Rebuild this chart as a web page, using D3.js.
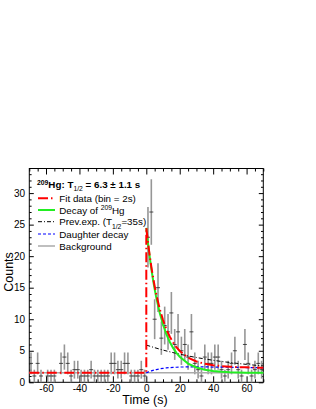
<!DOCTYPE html>
<html>
<head>
<meta charset="utf-8">
<script src="https://cdn.jsdelivr.net/npm/d3@7"></script>
<style>
  body { margin: 0; background: #fff; }
  svg text { font-family: "Liberation Sans", Arial, Helvetica, sans-serif; }
</style>
</head>
<body>
<figure id="decay" style="margin:0"></figure>
<script>
// histogram: bin centres (2 s bins) and counts
const binCenters = d3.range(-69, 70, 2);
const counts = [
  3, 1, 3, 1, 0, 1, 1, 1, 0, 3, 4, 3, 1, 2, 2, 1, 1, 1,
  2, 1, 1, 1, 1, 1, 3, 3, 2, 2, 3, 3, 1, 1, 1, 2, 1,
  23, 27, 10, 15, 7, 9, 8, 11, 6, 8, 5, 6, 4, 8, 3, 2, 1, 4,
  3, 3, 4, 4, 2, 1, 2, 3, 5, 2, 1, 6, 3, 1, 2, 3, 2
];

// fitted curves (t >= 0)
const fitTime = [0, 1, 2, 3, 4, 5, 6, 8, 10, 12, 14, 16, 18, 20, 25, 30, 35, 40, 45, 50, 55, 60, 65, 70];
const fitTotal = [24.5, 22.21, 20.18, 18.35, 16.69, 15.24, 13.91, 11.67, 9.87, 8.42, 7.26, 6.33, 5.56, 4.97,
  3.91, 3.30, 2.93, 2.70, 2.57, 2.48, 2.41, 2.37, 2.33, 2.30];
const decayHg = [24.5, 22.1, 19.96, 18.04, 16.3, 14.78, 13.39, 11.04, 9.16, 7.64, 6.43, 5.46, 4.67, 4.05,
  2.97, 2.35, 1.99, 1.78, 1.66, 1.59, 1.55, 1.53, 1.51, 1.5];
const daughter = [1.5, 1.61, 1.72, 1.81, 1.89, 1.96, 2.02, 2.13, 2.21, 2.28, 2.33, 2.37, 2.39, 2.42,
  2.44, 2.45, 2.44, 2.42, 2.41, 2.39, 2.36, 2.34, 2.32, 2.30];
const prevTime = [0, 5, 10, 15, 20, 25, 30, 35, 40, 45, 50, 55, 60, 65, 70];
const prevExp = [5.9, 5.49, 5.11, 4.77, 4.46, 4.18, 3.93, 3.70, 3.49, 3.30, 3.14, 2.98, 2.84, 2.71, 2.60];
const background = 1.5;

const xMajor = [-60, -40, -20, 0, 20, 40, 60];
const yMajor = [0, 5, 10, 15, 20, 25, 30];

const svgWidth = 316, svgHeight = 409;
const padLeft = 29.3, padRight = 263.3, padTop = 168.5, padBottom = 382.3;

const svg = d3.select("figure#decay")
  .append("svg")
  .attr("width", svgWidth)
  .attr("height", svgHeight);

const x = d3.scaleLinear().domain([-70, 70]).range([padLeft, padRight]);
const y = d3.scaleLinear().domain([0, 33.9]).range([padBottom, padTop]);

// axes: ROOT style ticks on all four sides, pointing inwards
const xMinor = d3.range(-70, 71, 5).filter(d => !xMajor.includes(d));
const yMinor = d3.range(0, 34, 1).filter(d => !yMajor.includes(d));

function drawAxis(axis, tr, size, vals, labels) {
  const g = svg.append("g")
    .attr("transform", tr)
    .call(axis.tickValues(vals).tickSize(-size).tickPadding(labels ? labels : 0)
      .tickFormat(labels ? (d => String(d)) : ""));
  g.select(".domain").remove();
  g.selectAll("line").attr("stroke", "#000").attr("stroke-width", 1);
  g.selectAll("text").attr("font-size", 10).attr("fill", "#000");
  return g;
}

drawAxis(d3.axisBottom(x), `translate(0,${padBottom})`, 6, xMajor, 2.6);
drawAxis(d3.axisBottom(x), `translate(0,${padBottom})`, 3, xMinor, 0);
drawAxis(d3.axisTop(x), `translate(0,${padTop})`, 6, xMajor, 0);
drawAxis(d3.axisTop(x), `translate(0,${padTop})`, 3, xMinor, 0);
drawAxis(d3.axisLeft(y), `translate(${padLeft},0)`, 4.5, yMajor, 4.3);
drawAxis(d3.axisLeft(y), `translate(${padLeft},0)`, 2.3, yMinor, 0);
drawAxis(d3.axisRight(y), `translate(${padRight},0)`, 4.5, yMajor, 0);
drawAxis(d3.axisRight(y), `translate(${padRight},0)`, 2.3, yMinor, 0);

// frame
svg.append("rect")
  .attr("x", padLeft).attr("y", padTop)
  .attr("width", padRight - padLeft).attr("height", padBottom - padTop)
  .attr("fill", "none").attr("stroke", "#000").attr("stroke-width", 1);

// axis titles
svg.append("text")
  .attr("x", 145).attr("y", 404)
  .attr("text-anchor", "middle").attr("font-size", 12.5)
  .text("Time (s)");
svg.append("text")
  .attr("transform", "translate(13,272) rotate(-90)")
  .attr("text-anchor", "middle").attr("font-size", 12.5)
  .text("Counts");

// data points with error bars
const data = binCenters.map((c, i) => ({ t: c, v: counts[i] })).filter(d => d.v > 0);
const pts = svg.append("g");
pts.selectAll("line.err")
  .data(data).enter().append("line")
  .attr("class", "err")
  .attr("x1", d => x(d.t)).attr("x2", d => x(d.t))
  .attr("y1", d => y(d.v - Math.sqrt(d.v)))
  .attr("y2", d => y(Math.min(d.v + Math.sqrt(d.v), 33.9)))
  .attr("stroke", "#969696").attr("stroke-width", 1.6);
pts.selectAll("line.mark")
  .data(data).enter().append("line")
  .attr("class", "mark")
  .attr("x1", d => x(d.t) - 2).attr("x2", d => x(d.t) + 2)
  .attr("y1", d => y(d.v)).attr("y2", d => y(d.v))
  .attr("stroke", "#222").attr("stroke-width", 0.8);

const line = d3.line().x(d => x(d[0])).y(d => y(d[1]));
const zip = (ts, vs) => ts.map((t, i) => [t, vs[i]]);

// background level
svg.append("path")
  .attr("d", line([[-70, background], [70, background]]))
  .attr("fill", "none").attr("stroke", "#aaa").attr("stroke-width", 1.5);

// daughter decay
svg.append("path")
  .attr("d", line(zip(fitTime, daughter)))
  .attr("fill", "none").attr("stroke", "#0000ff").attr("stroke-width", 1.2)
  .attr("stroke-dasharray", "3,2");

// previous experiment
svg.append("path")
  .attr("d", line(zip(prevTime, prevExp)))
  .attr("fill", "none").attr("stroke", "#000").attr("stroke-width", 1)
  .attr("stroke-dasharray", "4,2,1,2");

// decay of 209Hg
svg.append("path")
  .attr("d", line(zip(fitTime, decayHg)))
  .attr("fill", "none").attr("stroke", "#22ee22").attr("stroke-width", 2);

// total fit
svg.append("path")
  .attr("d", line([[-70, background], [0, background]].concat(zip(fitTime, fitTotal))))
  .attr("fill", "none").attr("stroke", "#ff0000").attr("stroke-width", 2)
  .attr("stroke-dasharray", "10,3,1.5,3");

// legend
const header = svg.append("text")
  .attr("x", 37).attr("y", 188.3)
  .attr("font-size", 9.8).attr("font-weight", "bold");
header.append("tspan").attr("font-size", 6.8).attr("dy", -3).text("209");
header.append("tspan").attr("dy", 3).text("Hg: T");
header.append("tspan").attr("font-size", 6.8).attr("font-weight", "normal").attr("dy", 3).text("1/2");
header.append("tspan").attr("dy", -3).text(" = 6.3 \u00b1 1.1 s");

const legendY = [198.3, 210, 221.7, 234, 246];
const legendStyle = [
  { c: "#ff0000", w: 2, dash: "10,3,1.5,3" },
  { c: "#22ee22", w: 2, dash: null },
  { c: "#000", w: 1, dash: "4,2,1,2" },
  { c: "#0000ff", w: 1.2, dash: "3,2" },
  { c: "#aaa", w: 1.5, dash: null }
];
legendStyle.forEach((s, i) => {
  svg.append("line")
    .attr("x1", 38).attr("x2", 55)
    .attr("y1", legendY[i]).attr("y2", legendY[i])
    .attr("stroke", s.c).attr("stroke-width", s.w)
    .attr("stroke-dasharray", s.dash);
});

function legendText(i) {
  return svg.append("text")
    .attr("x", 59.3).attr("y", legendY[i] + 3.5)
    .attr("font-size", 9.8);
}
legendText(0).text("Fit data (bin = 2s)");
const t1 = legendText(1);
t1.append("tspan").text("Decay of ");
t1.append("tspan").attr("font-size", 6.8).attr("dy", -3.5).text("209");
t1.append("tspan").attr("dy", 3.5).text("Hg");
const t2 = legendText(2);
t2.append("tspan").text("Prev.exp. (T");
t2.append("tspan").attr("font-size", 6.8).attr("dy", 3.5).text("1/2");
t2.append("tspan").attr("dy", -3.5).text("=35s)");
legendText(3).text("Daughter decay");
legendText(4).text("Background");
</script>
</body>
</html>
